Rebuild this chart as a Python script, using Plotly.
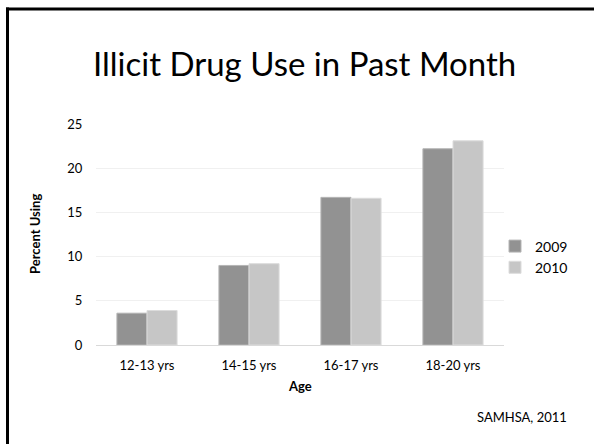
import plotly.graph_objects as go

categories = ["12-13 yrs", "14-15 yrs", "16-17 yrs", "18-20 yrs"]
values_2009 = [3.6, 9.0, 16.7, 22.2]
values_2010 = [3.9, 9.2, 16.6, 23.1]
y_ticks = [0, 5, 10, 15, 20, 25]

FONT = "Lato"

fig = go.Figure()
fig.add_trace(go.Bar(
    x=categories, y=values_2009, name="2009",
    marker=dict(color="#929292", line=dict(color="#b5b5b5", width=1)),
))
fig.add_trace(go.Bar(
    x=categories, y=values_2010, name="2010",
    marker=dict(color="#c6c6c6", line=dict(color="#dcdcdc", width=1)),
))

# plot area: x 96..504 px, y 124..345 px
def px_x(px):
    return (px - 96) / 408.0

def px_y(py):
    return (345 - py) / 221.0

fig.update_layout(
    width=594, height=444,
    margin=dict(l=96, r=90, t=124, b=99, pad=0, autoexpand=False),
    paper_bgcolor="white", plot_bgcolor="white",
    barmode="group", bargap=0.41, bargroupgap=0.0,
    font=dict(family=FONT, size=13, color="#000000"),
    showlegend=True,
    legend=dict(x=px_x(495), y=px_y(257), xanchor="left", yanchor="middle",
                font=dict(family=FONT, size=14, color="#000"),
                bgcolor="rgba(0,0,0,0)", itemwidth=30, tracegroupgap=0),
    xaxis=dict(showgrid=False, showline=True, linecolor="#d9d9d9", linewidth=1,
               ticks="outside", ticklen=8, tickcolor="rgba(0,0,0,0)",
               tickfont=dict(family=FONT, size=13, color="#000")),
    yaxis=dict(range=[0, 25], tickvals=y_ticks, showgrid=True, gridcolor="#f0f0f0",
               gridwidth=1, zeroline=False, showline=False,
               ticks="outside", ticklen=10, tickcolor="rgba(0,0,0,0)",
               tickfont=dict(family=FONT, size=13, color="#000")),
    annotations=[
        dict(text="Illicit Drug Use in Past Month", x=px_x(304), y=px_y(63),
             xref="paper", yref="paper", showarrow=False, xanchor="center", yanchor="middle",
             font=dict(family=FONT, size=33, color="#000")),
        dict(text="<b>Percent Using</b>", x=px_x(35), y=px_y(234), textangle=-90,
             xref="paper", yref="paper", showarrow=False, xanchor="center", yanchor="middle",
             font=dict(family=FONT, size=13, color="#000")),
        dict(text="<b>Age</b>", x=px_x(300), y=px_y(386),
             xref="paper", yref="paper", showarrow=False, xanchor="center", yanchor="middle",
             font=dict(family=FONT, size=13, color="#000")),
        dict(text="SAMHSA, 2011", x=px_x(569), y=px_y(417),
             xref="paper", yref="paper", showarrow=False, xanchor="right", yanchor="middle",
             font=dict(family=FONT, size=13, color="#000")),
    ],
    shapes=[
        dict(type="line", xref="paper", yref="paper",
             x0=px_x(6), x1=px_x(600), y0=px_y(9), y1=px_y(9),
             line=dict(color="black", width=3)),
        dict(type="line", xref="paper", yref="paper",
             x0=px_x(7.5), x1=px_x(7.5), y0=px_y(7.5), y1=px_y(450),
             line=dict(color="black", width=3)),
    ],
)

fig.write_html("out.html")
